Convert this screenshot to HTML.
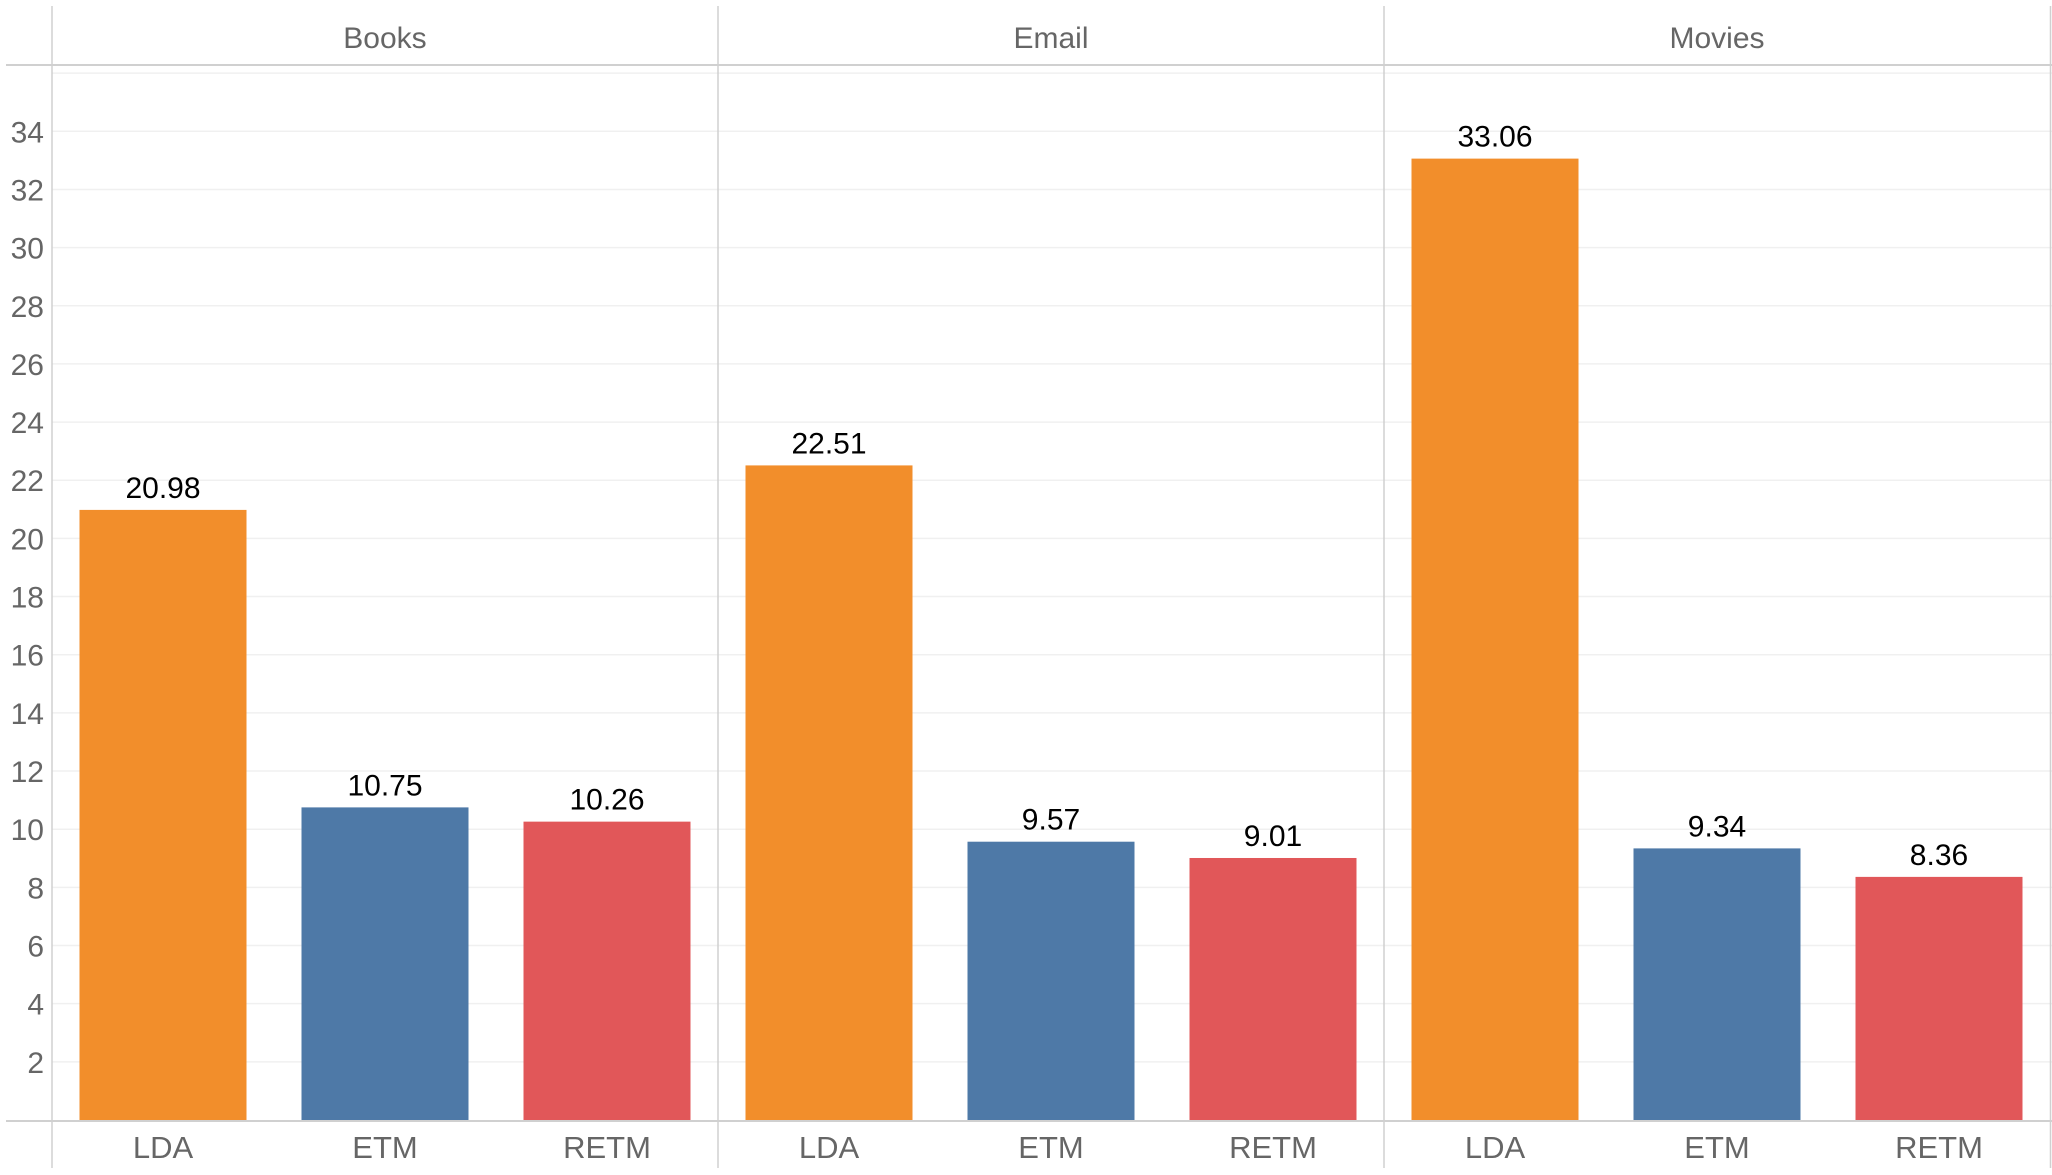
<!DOCTYPE html>
<html><head><meta charset="utf-8"><style>
html,body{margin:0;padding:0;background:#fff;}
svg{display:block;font-family:"Liberation Sans",sans-serif;}
</style></head><body>
<svg id="chart" width="2052" height="1175" viewBox="0 0 2052 1175" xmlns="http://www.w3.org/2000/svg"></svg>
<script>
const panels = ["Books", "Email", "Movies"];
const models = ["LDA", "ETM", "RETM"];
const ldaValues = [20.98, 22.51, 33.06];
const etmValues = [10.75, 9.57, 9.34];
const retmValues = [10.26, 9.01, 8.36];
const yTicks = [2,4,6,8,10,12,14,16,18,20,22,24,26,28,30,32,34];
const gridTicks = [2,4,6,8,10,12,14,16,18,20,22,24,26,28,30,32,34,36];

const colors = ["#f28e2b", "#4e79a7", "#e15759"];
const series = [ldaValues, etmValues, retmValues];
const NS = "http://www.w3.org/2000/svg";
const svg = document.getElementById("chart");
const left = 52, panelW = 666, baseY = 1120, pxPerUnit = 29.08;
const y = v => baseY - v * pxPerUnit;
const bandW = panelW / 3, barW = 167;
const xBar = (p, m) => left + p * panelW + m * bandW + (bandW - barW) / 2;

function mk(tag, attrs, text) {
  const e = document.createElementNS(NS, tag);
  for (const k in attrs) e.setAttribute(k, attrs[k]);
  if (text !== undefined) e.textContent = text;
  svg.appendChild(e);
  return e;
}

// gridlines
gridTicks.forEach(t => {
  const g = mk("line", {x1: left, x2: 2052, y1: y(t), y2: y(t), stroke: "#f0f0f0", "stroke-width": 1.5});
  
  
});
// y tick labels
yTicks.forEach(t => {
  const l = mk("text", {x: 44, y: y(t) + 11, "text-anchor": "end", "font-size": 30, fill: "#666"}, String(t));
  
  
});
// header line and baseline
const hl = mk("line", {x1: 6, x2: 2052, y1: 65, y2: 65, stroke: "#d0d0d0", "stroke-width": 2});


const bl = mk("line", {x1: 6, x2: 2052, y1: baseY + 1, y2: baseY + 1, stroke: "#d0d0d0", "stroke-width": 2});


// vertical dividers
for (let p = 0; p <= 3; p++) {
  const x = p === 3 ? 2050.5 : left + p * panelW;
  const v = mk("line", {x1: x, x2: x, y1: 6, y2: 1168, stroke: "#d0d0d0", "stroke-width": 1.5});
  
  
}
panels.forEach((name, p) => {
  const h = mk("text", {x: left + p * panelW + panelW / 2, y: 48, "text-anchor": "middle", "font-size": 30, fill: "#666"}, name);
  
  
  models.forEach((m, i) => {
    const v = series[i][p];
    const x = xBar(p, i);
    const r = mk("rect", {x: x, y: y(v), width: barW, height: baseY - y(v), fill: colors[i]});
    
    
    const vl = mk("text", {x: x + barW / 2, y: y(v) - 12, "text-anchor": "middle", "font-size": 30, fill: "#000"}, v.toFixed(2));
    
    
    const xl = mk("text", {x: x + barW / 2, y: 1158, "text-anchor": "middle", "font-size": 31, fill: "#666"}, m);
    
    
  });
});
</script>
</body></html>
